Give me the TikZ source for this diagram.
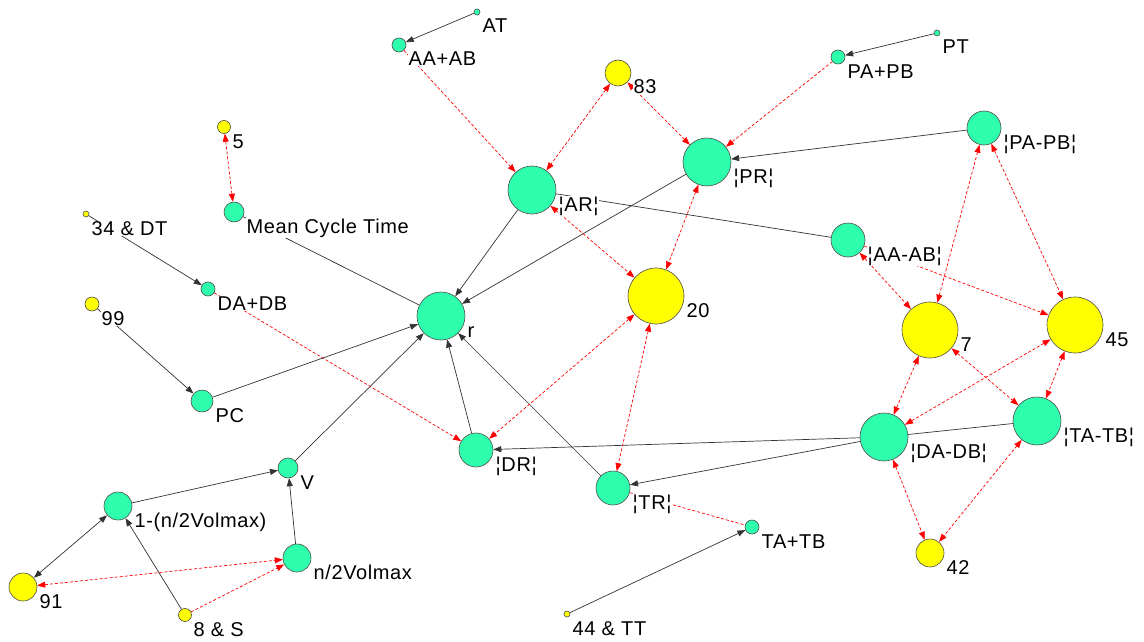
\documentclass[tikz,border=0pt]{standalone}
\usepackage{fontspec}
\setmainfont{Liberation Sans}
\newfontfamily\lblfont[LetterSpace=3]{Liberation Sans}
\usetikzlibrary{arrows.meta,backgrounds}
\definecolor{vgreen}{RGB}{46,255,172}
\definecolor{vyellow}{RGB}{255,255,0}

\begin{document}
\begin{tikzpicture}[x=1pt,y=-1pt,>={Triangle[length=8pt,width=6pt]},
  vtx/.style={circle,draw=black!70,line width=0.6pt,inner sep=0pt},
  gv/.style={vtx,fill=vgreen},
  yv/.style={vtx,fill=vyellow},
  lbl/.style={anchor=base west,fill=white,inner sep=0.5pt,
    font=\lblfont\fontsize{20}{22}\selectfont},
  tie/.style={draw=black!80,line width=0.7pt},
  link/.style={draw=red,line width=0.7pt,dash pattern=on 3pt off 2pt}]
  \useasboundingbox (0,0) rectangle (1144,642);

  % vertices
  \node[gv,minimum size=6pt]  (at)    at (477,12)  {};
  \node[gv,minimum size=14pt] (aapab) at (399,45)  {};
  \node[yv,minimum size=26pt] (n83)   at (618,73)  {};
  \node[gv,minimum size=6pt]  (pt)    at (937,33)  {};
  \node[gv,minimum size=14pt] (papb)  at (838,57)  {};
  \node[yv,minimum size=13pt] (n5)    at (224,127) {};
  \node[gv,minimum size=48pt] (pr)    at (707,162) {};
  \node[gv,minimum size=34pt] (pamb)  at (984,128) {};
  \node[gv,minimum size=48pt] (ar)    at (532,190) {};
  \node[gv,minimum size=20pt] (mct)   at (234,212) {};
  \node[yv,minimum size=6pt]  (n34)   at (86,214)  {};
  \node[gv,minimum size=34pt] (aamb)  at (848,240) {};
  \node[gv,minimum size=14pt] (dapb)  at (208,289) {};
  \node[yv,minimum size=14pt] (n99)   at (92,304)  {};
  \node[gv,minimum size=48pt] (r)     at (441,316) {};
  \node[yv,minimum size=56pt] (n20)   at (656,296) {};
  \node[yv,minimum size=56pt] (n7)    at (930,330) {};
  \node[yv,minimum size=56pt] (n45)   at (1075,325) {};
  \node[gv,minimum size=22pt] (pc)    at (202,401) {};
  \node[gv,minimum size=34pt] (dr)    at (476,450) {};
  \node[gv,minimum size=48pt] (damb)  at (884,437) {};
  \node[gv,minimum size=48pt] (tamb)  at (1037,421) {};
  \node[gv,minimum size=20pt] (v)     at (288,468) {};
  \node[gv,minimum size=34pt] (tr)    at (613,488) {};
  \node[gv,minimum size=28pt] (onem)  at (118,506) {};
  \node[gv,minimum size=14pt] (tapb)  at (752,527) {};
  \node[gv,minimum size=28pt] (nvol)  at (297,558) {};
  \node[yv,minimum size=28pt] (n91)   at (23,587)  {};
  \node[yv,minimum size=28pt] (n42)   at (930,553) {};
  \node[yv,minimum size=13pt] (n8)    at (185,615) {};
  \node[yv,minimum size=6pt]  (n44)   at (567,614) {};

  % labels
  \node[lbl] (at-l)    at (482,33)   {AT};
  \node[lbl] (aapab-l) at (408,66)   {AA+AB};
  \node[lbl] (n83-l)   at (633,94)   {83};
  \node[lbl] (pt-l)    at (942,54)   {PT};
  \node[lbl] (papb-l)  at (847,78)   {PA+PB};
  \node[lbl] (n5-l)    at (232,148)  {5};
  \node[lbl] (pr-l)    at (733,183)  {¦PR¦};
  \node[lbl] (pamb-l)  at (1003,149) {¦PA-PB¦};
  \node[lbl] (ar-l)    at (558,211)  {¦AR¦};
  \node[lbl] (mct-l)   at (246,233)  {Mean Cycle Time};
  \node[lbl] (n34-l)   at (91,235)   {34 \& DT};
  \node[lbl] (aamb-l)  at (867,261)  {¦AA-AB¦};
  \node[lbl] (dapb-l)  at (217,310)  {DA+DB};
  \node[lbl] (n99-l)   at (101,325)  {99};
  \node[lbl] (r-l)     at (467,337)  {r};
  \node[lbl] (n20-l)   at (686,317)  {20};
  \node[lbl] (n7-l)    at (960,351)  {7};
  \node[lbl] (n45-l)   at (1105,346) {45};
  \node[lbl] (pc-l)    at (215,422)  {PC};
  \node[lbl] (dr-l)    at (495,471)  {¦DR¦};
  \node[lbl] (damb-l)  at (910,458)  {¦DA-DB¦};
  \node[lbl] (tamb-l)  at (1063,442) {¦TA-TB¦};
  \node[lbl] (v-l)     at (300,489)  {V};
  \node[lbl] (tr-l)    at (632,509)  {¦TR¦};
  \node[lbl] (onem-l)  at (134,527)  {1-(n/2Volmax)};
  \node[lbl] (tapb-l)  at (761,548)  {TA+TB};
  \node[lbl] (nvol-l)  at (313,579)  {n/2Volmax};
  \node[lbl] (n91-l)   at (39,608)   {91};
  \node[lbl] (n42-l)   at (946,574)  {42};
  \node[lbl] (n8-l)    at (193,636)  {8 \& S};
  \node[lbl] (n44-l)   at (572,635)  {44 \& TT};

  \begin{pgfonlayer}{background}
    % solid ties
    \draw[tie,->] (at) -- (aapab);
    \draw[tie,->] (pt) -- (papb);
    \draw[tie,->] (pamb) -- (pr);
    \draw[tie,->] (ar) -- (r);
    \draw[tie,->] (pr) -- (r);
    \draw[tie] (mct) -- (r);
    \draw[tie] (ar) -- (aamb);
    \draw[tie,->] (n34) -- (dapb);
    \draw[tie,->] (n99) -- (pc);
    \draw[tie,->] (pc) -- (r);
    \draw[tie,->] (v) -- (r);
    \draw[tie,->] (dr) -- (r);
    \draw[tie,->] (tr) -- (r);
    \draw[tie,->] (damb) -- (dr);
    \draw[tie,->] (damb) -- (tr);
    \draw[tie] (tamb) -- (damb);
    \draw[tie,->] (onem) -- (v);
    \draw[tie,->] (nvol) -- (v);
    \draw[tie,<->] (onem) -- (n91);
    \draw[tie,->] (n8) -- (onem);
    \draw[tie,->] (n44) -- (tapb);
    % dashed links
    \draw[link,->] (aapab) -- (ar);
    \draw[link,<->] (n83) -- (ar);
    \draw[link,<->] (n83) -- (pr);
    \draw[link,->] (papb) -- (pr);
    \draw[link,<->] (n5) -- (mct);
    \draw[link,<->] (ar) -- (n20);
    \draw[link,<->] (pr) -- (n20);
    \draw[link,<->] (pamb) -- (n7);
    \draw[link,<->] (pamb) -- (n45);
    \draw[link,<->] (aamb) -- (n7);
    \draw[link,->] (aamb) -- (n45);
    \draw[link,->] (dapb) -- (dr);
    \draw[link,<->] (n20) -- (dr);
    \draw[link,<->] (n20) -- (tr);
    \draw[link,<->] (n7) -- (damb);
    \draw[link,<->] (n45) -- (damb);
    \draw[link,<->] (n7) -- (tamb);
    \draw[link,<->] (n45) -- (tamb);
    \draw[link,<->] (damb) -- (n42);
    \draw[link,<->] (tamb) -- (n42);
    \draw[link] (tr) -- (tapb);
    \draw[link,<->] (n91) -- (nvol);
    \draw[link,->] (n8) -- (nvol);
  \end{pgfonlayer}
\end{tikzpicture}
\end{document}
